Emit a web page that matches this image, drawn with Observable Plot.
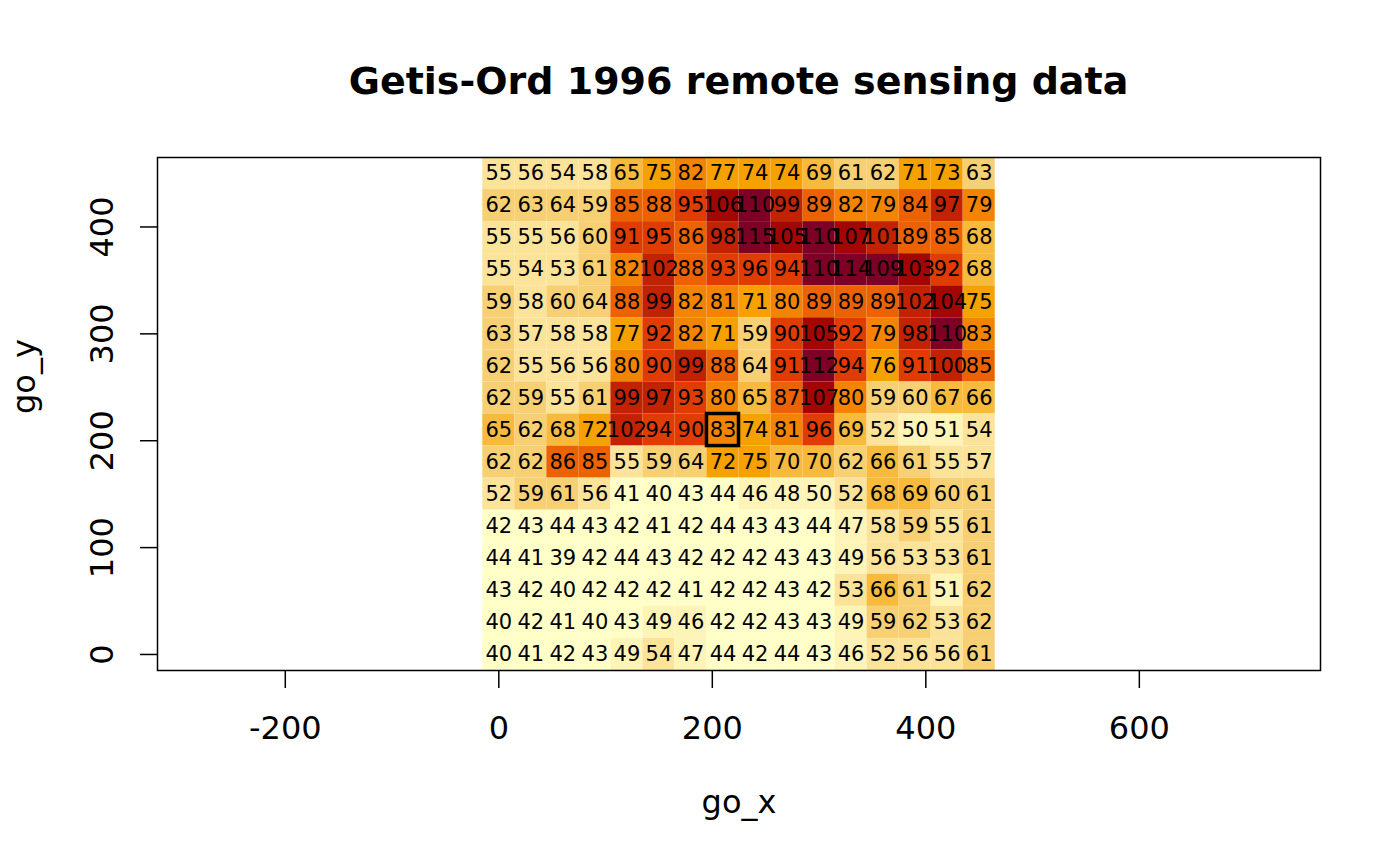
<!DOCTYPE html>
<html>
<head>
<meta charset="utf-8">
<script src="https://cdn.jsdelivr.net/npm/d3@7"></script>
<script src="https://cdn.jsdelivr.net/npm/@observablehq/plot@0.6"></script>
<style>
  html, body { margin: 0; padding: 0; background: #ffffff; }
  #wrap { width: 1400px; height: 866px; position: relative; font-family: "DejaVu Sans", sans-serif; }
  #titlebox { position: relative; width: 1400px; height: 130px; }
  #title { position: absolute; left: 157px; width: 1163px; top: 61px; text-align: center;
           font-size: 38px; line-height: 40px; font-weight: bold; color: #000; }
  #chart svg { display: block; }
</style>
</head>
<body>
<div id="wrap">
  <div id="titlebox"><div id="title"></div></div>
  <div id="chart"></div>
</div>
<script>
// ---- data ----
const chartTitle = "Getis-Ord 1996 remote sensing data";
const xLabel = "go_x";
const yLabel = "go_y";
const xCenters = [0, 30, 60, 90, 120, 150, 180, 210, 240, 270, 300, 330, 360, 390, 420, 450];
const yCenters = [450, 420, 390, 360, 330, 300, 270, 240, 210, 180, 150, 120, 90, 60, 30, 0];
const zRows = [
  [55, 56, 54, 58, 65, 75, 82, 77, 74, 74, 69, 61, 62, 71, 73, 63],
  [62, 63, 64, 59, 85, 88, 95, 106, 110, 99, 89, 82, 79, 84, 97, 79],
  [55, 55, 56, 60, 91, 95, 86, 98, 115, 105, 110, 107, 101, 89, 85, 68],
  [55, 54, 53, 61, 82, 102, 88, 93, 96, 94, 110, 114, 109, 103, 92, 68],
  [59, 58, 60, 64, 88, 99, 82, 81, 71, 80, 89, 89, 89, 102, 104, 75],
  [63, 57, 58, 58, 77, 92, 82, 71, 59, 90, 105, 92, 79, 98, 110, 83],
  [62, 55, 56, 56, 80, 90, 99, 88, 64, 91, 112, 94, 76, 91, 100, 85],
  [62, 59, 55, 61, 99, 97, 93, 80, 65, 87, 107, 80, 59, 60, 67, 66],
  [65, 62, 68, 72, 102, 94, 90, 83, 74, 81, 96, 69, 52, 50, 51, 54],
  [62, 62, 86, 85, 55, 59, 64, 72, 75, 70, 70, 62, 66, 61, 55, 57],
  [52, 59, 61, 56, 41, 40, 43, 44, 46, 48, 50, 52, 68, 69, 60, 61],
  [42, 43, 44, 43, 42, 41, 42, 44, 43, 43, 44, 47, 58, 59, 55, 61],
  [44, 41, 39, 42, 44, 43, 42, 42, 42, 43, 43, 49, 56, 53, 53, 61],
  [43, 42, 40, 42, 42, 42, 41, 42, 42, 43, 42, 53, 66, 61, 51, 62],
  [40, 42, 41, 40, 43, 49, 46, 42, 42, 43, 43, 49, 59, 62, 53, 62],
  [40, 41, 42, 43, 49, 54, 47, 44, 42, 44, 43, 46, 52, 56, 56, 61]
];
const xTicks = [-200, 0, 200, 400, 600];
const yTicks = [0, 100, 200, 300, 400];
const highlightCells = [{x: 210, y: 210}];

// ---- palette: R hcl.colors(12, "YlOrRd", rev = TRUE) via polar LUV ----
function hclR(h, c, l) {
  const WX = 95.047, WY = 100.0, WZ = 108.883;
  const den = WX + 15 * WY + 3 * WZ;
  const Wu = 4 * WX / den, Wv = 9 * WY / den;
  const hr = h * Math.PI / 180;
  const U = c * Math.cos(hr), V = c * Math.sin(hr);
  const Y = WY * (l > 7.999592 ? Math.pow((l + 16) / 116, 3) : l / 903.3);
  const u = U / (13 * l) + Wu, v = V / (13 * l) + Wv;
  const X = 9.0 * Y * u / (4 * v);
  const Z = -X / 3 - 5 * Y + 3 * Y / v;
  const g = t => t > 0.00304 ? 1.055 * Math.pow(t, 1 / 2.4) - 0.055 : 12.92 * t;
  const cl = t => Math.max(0, Math.min(1, t));
  const r = cl(g((3.240479 * X - 1.537150 * Y - 0.498535 * Z) / WY));
  const gg = cl(g((-0.969256 * X + 1.875992 * Y + 0.041556 * Z) / WY));
  const b = cl(g((0.055648 * X - 0.204043 * Y + 1.057311 * Z) / WY));
  const hx = t => Math.round(255 * t).toString(16).padStart(2, "0");
  return "#" + hx(r) + hx(gg) + hx(b);
}
function ylOrRd(n) {
  const h1 = 5, h2 = 85, c1 = 75, c2 = 40, cmax = 180, l1 = 25, l2 = 99, p1 = 1.6, p2 = 1.3;
  const j = 1 / (1 + Math.abs(cmax - c1) / Math.abs(cmax - c2));
  const out = [];
  for (let k = 0; k < n; k++) {
    const i = k / (n - 1); // rev = TRUE: light -> dark
    const t = Math.pow(i, p1);
    const C = t <= j ? c2 - (c2 - cmax) * t / j : cmax - (cmax - c1) * (t - j) / (1 - j);
    const L = l2 - (l2 - l1) * Math.pow(i, p2);
    const H = h2 - (h2 - h1) * i;
    out.push(hclR(H, C, L));
  }
  return out;
}
const nColors = 12;
const palette = ylOrRd(nColors);

// ---- table ----
const cells = yCenters.flatMap((y, r) => xCenters.map((x, c) => ({x, y, z: zRows[r][c]})));
const zExt = d3.extent(cells, d => d.z);
const thresholds = d3.range(1, nColors).map(k => zExt[0] + (zExt[1] - zExt[0]) * k / nColors + 1e-9);
const half = (xCenters[1] - xCenters[0]) / 2;

document.getElementById("title").textContent = chartTitle;

const chart = Plot.plot({
  width: 1400,
  height: 736,
  marginTop: 27,
  marginBottom: 196,
  marginLeft: 157,
  marginRight: 80,
  style: {fontFamily: "DejaVu Sans", fontSize: "32px", background: "white", color: "black"},
  x: {domain: [-319.7, 769.7]},
  y: {domain: [-15, 465]},
  color: {type: "threshold", domain: thresholds, range: palette},
  marks: [
    Plot.rect(cells, {
      x1: d => d.x - half, x2: d => d.x + half,
      y1: d => d.y - half, y2: d => d.y + half,
      fill: "z", inset: 0
    }),
    Plot.text(cells, {x: "x", y: "y", text: d => String(d.z), fontSize: 21, fill: "black"}),
    Plot.rect(highlightCells, {
      x1: d => d.x - half, x2: d => d.x + half,
      y1: d => d.y - half, y2: d => d.y + half,
      fill: "none", stroke: "black", strokeWidth: 3.5
    }),
    Plot.frame({stroke: "black", strokeWidth: 1.5}),
    Plot.axisX({ticks: xTicks, tickSize: 18, tickPadding: 28, fontSize: 32, label: null, strokeWidth: 1.5,
                tickFormat: d => String(d)}),
    Plot.axisY({ticks: yTicks, tickSize: 17, tickPadding: 28, tickRotate: -90, fontSize: 32, label: null, strokeWidth: 1.5,
                tickFormat: d => String(d)}),
    Plot.text([xLabel], {text: d => d, frameAnchor: "bottom", dy: 142, fontSize: 32, fill: "black"}),
    Plot.text([yLabel], {text: d => d, frameAnchor: "left", dx: -133, rotate: -90, fontSize: 32, fill: "black"})
  ]
});
document.getElementById("chart").appendChild(chart);
</script>
</body>
</html>
